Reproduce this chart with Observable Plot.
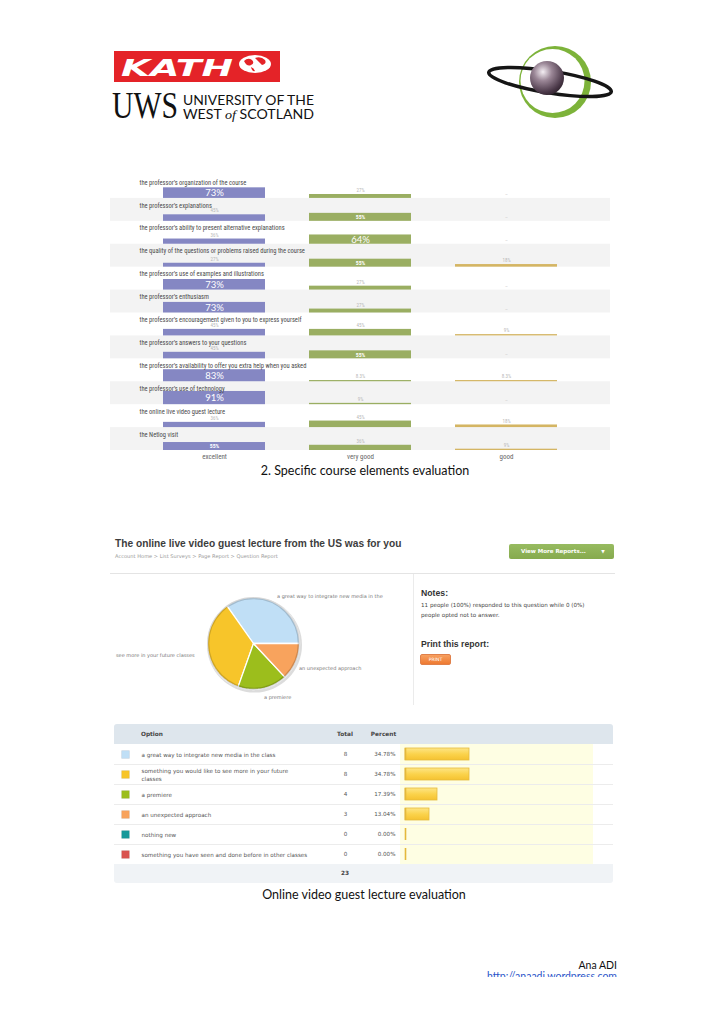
<!DOCTYPE html>
<html>
<head>
<meta charset="utf-8">
<script src="https://cdn.jsdelivr.net/npm/d3@7"></script>
<script src="https://cdn.jsdelivr.net/npm/@observablehq/plot@0.6"></script>
<style>
html,body{margin:0;padding:0;background:#fff;}
#page{position:relative;width:728px;height:1030px;overflow:hidden;background:#fff;}
.t{position:absolute;white-space:nowrap;line-height:1;}
.b{position:absolute;}
.plot{position:absolute;}
</style>
</head>
<body>
<div id="page">
<svg width="728" height="130" style="position:absolute;left:0;top:0">
  <defs>
    <radialGradient id="sph" cx="0.38" cy="0.32" r="0.75">
      <stop offset="0" stop-color="#f4eef3"/>
      <stop offset="0.35" stop-color="#9a8696"/>
      <stop offset="0.8" stop-color="#4a3848"/>
      <stop offset="1" stop-color="#2c2029"/>
    </radialGradient>
  </defs>
  <rect x="114" y="51" width="166" height="31" fill="#e42328"/>
  <text x="121" y="76" font-family="DejaVu Sans" font-weight="bold" font-style="italic" font-size="23" fill="#fff" textLength="112" lengthAdjust="spacingAndGlyphs">KATH</text>
  <ellipse cx="255" cy="64" rx="16" ry="9" fill="#fff"/>
  <path d="M244 61 q4 -4 8 -1 q3 3 -1 5 q-4 2 -7 -4z M255 58 q6 -2 10 2 q2 4 -3 5 q-3 -3 -7 -7z M251 67 q3 1 4 4 q-3 1 -4 -4z" fill="#e42328"/>
  <text x="112" y="118" font-family="Liberation Serif" font-size="37" fill="#111" textLength="66" lengthAdjust="spacingAndGlyphs">UWS</text>
  <text x="183" y="105" font-family="Lato" font-size="13.5" fill="#111" textLength="131" lengthAdjust="spacingAndGlyphs">UNIVERSITY OF THE</text>
  <text x="183" y="118.5" font-family="Lato" font-size="13.5" fill="#111" textLength="131" lengthAdjust="spacingAndGlyphs">WEST <tspan font-style="italic" font-family="Liberation Serif">of</tspan> SCOTLAND</text>
  <circle cx="555" cy="82" r="36" fill="#7db33a"/>
  <circle cx="552.5" cy="81" r="32" fill="#fff"/>
  <ellipse cx="550" cy="82" rx="62" ry="11" fill="none" stroke="#151515" stroke-width="3.5" transform="rotate(9 550 82)"/>
  <circle cx="547" cy="78" r="17" fill="url(#sph)"/>
</svg>
</div>
<script>
// ---------- data: specific course elements evaluation ----------
const questions = [
  "the professor’s organization of the course",
  "the professor’s explanations",
  "the professor’s ability to present alternative explanations",
  "the quality of the questions or problems raised during the course",
  "the professor’s use of examples and illustrations",
  "the professor’s enthusiasm",
  "the professor’s encouragement given to you to express yourself",
  "the professor’s answers to your questions",
  "the professor’s availability to offer you extra help when you asked",
  "the professor’s use of technology",
  "the online live video guest lecture",
  "the Netlog visit"
];
const ratings = ["excellent", "very good", "good"];
const excellent = [73, 45, 36, 27, 73, 73, 45, 45, 83, 91, 36, 55];
const veryGood  = [27, 55, 64, 55, 27, 27, 45, 55, 8.3, 9, 45, 36];
const good      = [0, 0, 0, 18, 0, 0, 9, 0, 8.3, 0, 18, 9];
const ratingColors = ["#8587c3", "#9aae62", "#d4b563"];

// ---------- data: online live video guest lecture ----------
const options = [
  "a great way to integrate new media in the class",
  "something you would like to see more in your future classes",
  "a premiere",
  "an unexpected approach",
  "nothing new",
  "something you have seen and done before in other classes"
];
const optionLabels = [
  "a great way to integrate new media in the class",
  "something you would like to see more in your future\nclasses",
  "a premiere",
  "an unexpected approach",
  "nothing new",
  "something you have seen and done before in other classes"
];
const pieLabels = [
  "a great way to integrate new media in the",
  "see more in your future classes",
  "a premiere",
  "an unexpected approach"
];
const totals = [8, 8, 4, 3, 0, 0];
const percents = [34.78, 34.78, 17.39, 13.04, 0, 0];
const optionColors = ["#c0dff6", "#f7c52a", "#9cbe1c", "#f8a35d", "#16999a", "#d9534f"];

// ---------- helpers ----------
const page = document.getElementById("page");
function txt(s, x, y, css, anchor) {
  const d = document.createElement("div");
  d.className = "t";
  d.textContent = s;
  d.style.cssText = css;
  d.style.left = x + "px";
  d.style.top = y + "px";
  const tx = anchor === "middle" ? "-50%" : anchor === "end" ? "-100%" : "0";
  d.style.transform = `translate(${tx},-50%)`;
  page.appendChild(d);
  return d;
}
function box(x, y, w, h, css) {
  const d = document.createElement("div");
  d.className = "b";
  d.style.cssText = css;
  Object.assign(d.style, {left: x + "px", top: y + "px", width: w + "px", height: h + "px"});
  page.appendChild(d);
  return d;
}
function place(node, x, y) {
  node.classList.add("plot");
  node.style.left = x + "px";
  node.style.top = y + "px";
  page.appendChild(node);
}

// ---------- chart 1 ----------
const F1 = "'Liberation Sans Narrow', 'Roboto Condensed', Lato, sans-serif";
const yMax = 158; // 100% ~ 14.5px bar thickness in a 22.9px row
const cells = questions.flatMap((q, i) =>
  [excellent[i], veryGood[i], good[i]].map((v, j) => ({q, rating: ratings[j], v})));
const stripes = questions.filter((q, i) => i % 2 === 1);
const pct = v => v + "%";

const chart1 = Plot.plot({
  width: 510,
  height: 291,
  marginTop: 0, marginLeft: 0, marginRight: 10, marginBottom: 16,
  style: {background: "transparent", color: "#666", fontFamily: F1, fontSize: "7px"},
  x: {domain: ratings, range: [8, 493], padding: 0.3, tickSize: 0, tickPadding: 4, label: null},
  y: {domain: [0, yMax], axis: null},
  fy: {domain: questions, padding: 0, round: false, range: [0, 275], axis: null},
  color: {domain: ratings, range: ratingColors},
  marks: [
    Plot.barY(stripes, {fy: d => d, y1: 0, y2: yMax, fill: "#f3f3f3"}),
    Plot.barY(cells, {fy: "q", x: "rating", y: "v", fill: "rating"}),
    Plot.text(cells.filter(d => d.v >= 64), {fy: "q", x: "rating", y: d => d.v / 2, text: d => pct(d.v), fill: "white", fontSize: 9.5, fontFamily: "Lato, sans-serif"}),
    Plot.text(cells.filter(d => d.v >= 50 && d.v < 64), {fy: "q", x: "rating", y: d => d.v / 2, text: d => pct(d.v), fill: "white", fontSize: 5.8, fontWeight: "bold"}),
    Plot.text(cells.filter(d => d.v > 0 && d.v < 50), {fy: "q", x: "rating", y: "v", dy: -4, text: d => pct(d.v), fill: "#b8b8b8", fontSize: 5}),
    Plot.text(cells.filter(d => d.v === 0), {fy: "q", x: "rating", y: () => 0, dy: -4, text: () => "–", fill: "#c8c8c8", fontSize: 5}),
    Plot.text(questions, {fy: d => d, text: d => d, frameAnchor: "top-left", lineAnchor: "middle", dx: 29, dy: 7, textAnchor: "start", fill: "#4a4a4a", fontSize: 6.5})
  ]
});
place(chart1, 110, 175);

txt("2. Specific course elements evaluation", 365, 471, "font-family:Lato,sans-serif;font-size:12.5px;color:#111;", "middle");

// ---------- survey screenshot header ----------
txt("The online live video guest lecture from the US was for you", 115, 544, "font-family:'Liberation Sans',Arial,sans-serif;font-weight:bold;font-size:10.2px;color:#3d3d3d;");
txt("Account Home > List Surveys > Page Report > Question Report", 115, 557, "font-family:'DejaVu Sans',sans-serif;font-size:5.1px;color:#9a9a9a;");
box(509, 544, 105, 15, "background:linear-gradient(#97bb60,#86aa4e);border-radius:2px;");
txt("View More Reports...", 521, 551.5, "font-family:'DejaVu Sans',sans-serif;font-weight:bold;font-size:5.5px;color:#fff;");
txt("▼", 603, 551.5, "font-family:'DejaVu Sans',sans-serif;font-size:4.5px;color:#fff;", "middle");
box(110, 573, 505, 1, "background:#e4e4e4;");
box(413, 574, 1, 131, "background:#ebebeb;");
txt("Notes:", 421, 593, "font-family:'Liberation Sans',Arial,sans-serif;font-weight:bold;font-size:8.7px;color:#333;");
txt("11 people (100%) responded to this question while 0 (0%)", 421, 605.5, "font-family:'DejaVu Sans',sans-serif;font-size:5.6px;color:#444;");
txt("people opted not to answer.", 421, 615.5, "font-family:'DejaVu Sans',sans-serif;font-size:5.6px;color:#444;");
txt("Print this report:", 421, 643.5, "font-family:'Liberation Sans',Arial,sans-serif;font-weight:bold;font-size:8.7px;color:#333;");
box(420, 654, 31, 11, "background:linear-gradient(#f7a060,#ee7a32);border:1px solid #e0804a;border-radius:2px;box-sizing:border-box;");
txt("PRINT", 435.5, 659.7, "font-family:'DejaVu Sans',sans-serif;font-size:4.6px;color:#fff;", "middle");

// ---------- pie ----------
const pieTotal = d3.sum(totals);
const piePts = [];
let acc = 0;
options.forEach((o, k) => {
  const a0 = acc / pieTotal * 2 * Math.PI;
  acc += totals[k];
  const a1 = acc / pieTotal * 2 * Math.PI;
  if (totals[k] === 0) return;
  piePts.push({option: o, x: 0, y: 0});
  const n = Math.max(2, Math.ceil((a1 - a0) / 0.03));
  for (let s = 0; s <= n; s++) {
    const a = a0 + (a1 - a0) * s / n;
    piePts.push({option: o, x: Math.cos(a), y: Math.sin(a)});
  }
  piePts.push({option: o, x: 0, y: 0});
});
const pie = Plot.plot({
  width: 104, height: 104, margin: 6,
  style: {background: "transparent", overflow: "visible"},
  x: {domain: [-1, 1], axis: null},
  y: {domain: [-1, 1], axis: null},
  color: {domain: options, range: optionColors},
  marks: [
    Plot.dot([0], {x: () => 0, y: () => 0, dx: 1, dy: 1.5, r: 47.5, fill: "#9a9a9a", fillOpacity: 0.35}),
    Plot.line(piePts, {x: "x", y: "y", z: "option", fill: "option", stroke: "white", strokeWidth: 1.3, strokeLinejoin: "round"}),
    Plot.dot([0], {x: () => 0, y: () => 0, r: 45.3, fill: "none", stroke: "#000", strokeOpacity: 0.16, strokeWidth: 2.2})
  ]
});
place(pie, 201, 591);
const pieCss = "font-family:'DejaVu Sans',sans-serif;font-size:5px;color:#777;";
txt(pieLabels[0], 277, 596, pieCss);
txt(pieLabels[1], 116, 655, pieCss);
txt(pieLabels[2], 264, 697, pieCss);
txt(pieLabels[3], 299, 668, pieCss);

// ---------- table ----------
box(114, 724, 499, 20, "background:#dee6ed;border-radius:3px 3px 0 0;");
box(400, 744, 193, 120, "background:#fefee3;");
for (let k = 1; k < options.length; k++) box(114, 744 + 20 * k, 499, 1, "background:#ececec;");
box(114, 864, 499, 19, "background:#f0f3f6;border-radius:0 0 3px 3px;");
const hCss = "font-family:'DejaVu Sans',sans-serif;font-weight:bold;font-size:5.8px;color:#444;";
txt("Option", 141, 735, hCss);
txt("Total", 345, 735, hCss, "middle");
txt("Percent", 383.5, 735, hCss, "middle");
txt(String(d3.sum(totals)), 345, 874, hCss, "middle");

const rows = options.map((o, k) => ({option: o, label: optionLabels[k], total: totals[k], percent: percents[k]}));
const gradMark = () => {
  const defs = d3.create("svg:defs");
  const g = defs.append("linearGradient").attr("id", "barGrad").attr("x1", 0).attr("y1", 0).attr("x2", 0).attr("y2", 1);
  g.append("stop").attr("offset", 0).attr("stop-color", "#fde586");
  g.append("stop").attr("offset", 0.5).attr("stop-color", "#fbd34c");
  g.append("stop").attr("offset", 1).attr("stop-color", "#f5c231");
  return defs.node();
};
const tCss = {fontFamily: "'DejaVu Sans', sans-serif", fontSize: 5.6, fill: "#555"};
const table = Plot.plot({
  width: 505, height: 120, margin: 0,
  style: {background: "transparent", overflow: "visible"},
  x: {domain: [0, 100], range: [295, 479], axis: null},
  y: {domain: options, padding: 0, round: false, axis: null},
  color: {domain: options, range: optionColors},
  marks: [
    gradMark,
    Plot.barX(rows, {y: "option", x: "percent", fill: "url(#barGrad)", stroke: "#e6bb3e", strokeWidth: 0.8, insetTop: 4, insetBottom: 4}),
    Plot.tickX(rows, {y: "option", x: () => 0, stroke: "#e4b83a", strokeWidth: 1.6, insetTop: 4, insetBottom: 4}),
    Plot.dot(rows, {y: "option", frameAnchor: "left", dx: 15, symbol: "square", r: 4.4, fill: "option", stroke: "#000", strokeOpacity: 0.12, strokeWidth: 0.6}),
    Plot.text(rows, {y: "option", text: "label", frameAnchor: "left", dx: 31, textAnchor: "start", lineHeight: 1.45, ...tCss}),
    Plot.text(rows, {y: "option", text: d => String(d.total), frameAnchor: "left", dx: 235, textAnchor: "middle", ...tCss}),
    Plot.text(rows, {y: "option", text: d => d.percent.toFixed(2) + "%", frameAnchor: "left", dx: 285, textAnchor: "end", ...tCss})
  ]
});
place(table, 110, 744);

txt("Online video guest lecture evaluation", 364, 895, "font-family:Lato,sans-serif;font-size:12.5px;color:#111;", "middle");

// ---------- footer ----------
txt("Ana ADI", 617, 965, "font-family:Lato,sans-serif;font-size:10.5px;color:#111;", "end");
const clip = box(440, 970, 178, 7, "overflow:hidden;");
const url = document.createElement("div");
url.textContent = "http://anaadi.wordpress.com";
url.style.cssText = "position:absolute;right:1px;top:1px;white-space:nowrap;line-height:1;font-family:Lato,sans-serif;font-size:10.5px;color:#2a55c9;text-decoration:underline;";
clip.appendChild(url);
</script>
</body>
</html>
